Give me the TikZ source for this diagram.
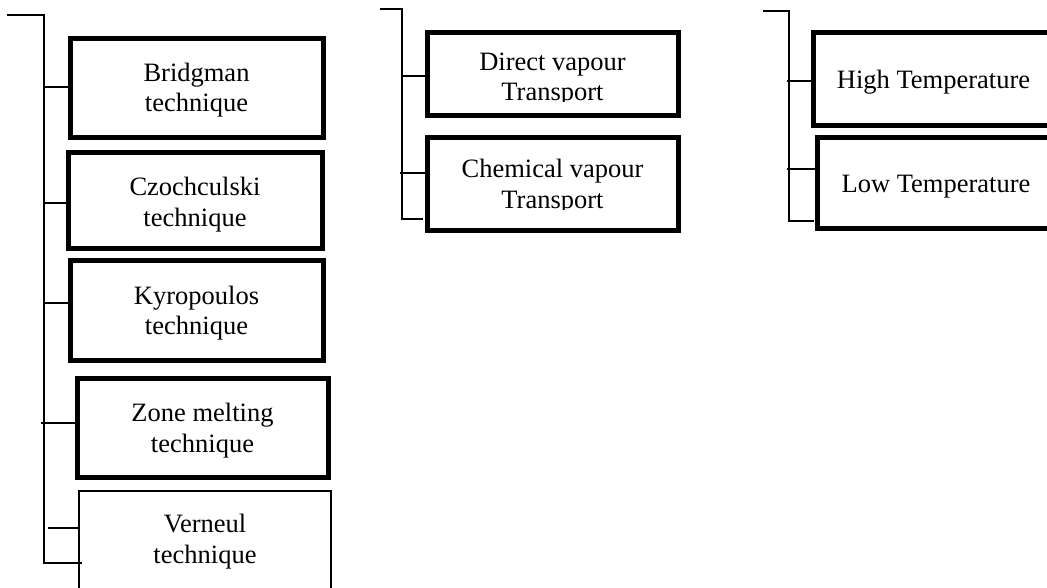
\documentclass[tikz,border=0pt]{standalone}
\usepackage{fontspec}
\setmainfont{Liberation Serif}
\begin{document}
\begin{tikzpicture}[x=1pt,y=-1pt,
  boxthick/.style={draw,line width=5pt,inner sep=0pt},
  boxthin/.style={draw,line width=1.8pt,inner sep=0pt},
  link/.style={line width=2pt},
  lbl/.style={anchor=base,inner sep=0pt,font=\fontsize{26.5}{31}\selectfont}]
\clip (0,0) rectangle (1047,587);
\fill[white] (0,0) rectangle (1047,587);

% box helper: corners given as (x1,y1) and (x2,y2)
\def\mkbox#1#2#3#4#5#6{%
  \node[#6,minimum width={#4-#2},minimum height={#5-#3}] (#1) at ({(#2+#4)/2},{(#3+#5)/2}) {};}

% ---------- left group: melt growth techniques ----------
\mkbox{bridg}{70}{38}{323}{137}{boxthick}
\mkbox{czoch}{68}{152}{322}{248}{boxthick}
\mkbox{kyro}{70}{260}{323}{360}{boxthick}
\mkbox{zone}{77}{378}{328}{477}{boxthick}
\mkbox{vern}{79}{491}{331}{600}{boxthin}

\node[lbl] (tb1) at (196.5,81.7) {Bridgman};
\node[lbl] (tb2) at (196.5,111.7) {technique};
\node[lbl] (tc1) at (195,195) {Czochculski};
\node[lbl] (tc2) at (195,226) {technique};
\node[lbl] (tk1) at (196.5,304) {Kyropoulos};
\node[lbl] (tk2) at (196.5,334) {technique};
\node[lbl] (tz1) at (202.5,421) {Zone melting};
\node[lbl] (tz2) at (202.5,452) {technique};
\node[lbl] (tv1) at (205,532) {Verneul};
\node[lbl] (tv2) at (205,563) {technique};

\coordinate (ltop) at (7,15);
\coordinate (lcor) at (44,15);
\coordinate (lbot) at (44,563);
\coordinate (lend) at (82,563);
\draw[link] (ltop) -- (lcor) -- (lbot) -- (lend);
\draw[link] (43,87) -- (bridg.west |- 0,87);
\draw[link] (43,203) -- (czoch.west |- 0,203);
\draw[link] (43,303) -- (kyro.west |- 0,303);
\draw[link] (41,423) -- (zone.west |- 0,423);
\draw[link] (48,528) -- (vern.west |- 0,528);

% ---------- middle group: vapour growth ----------
\mkbox{dvt}{427}{32}{678}{115}{boxthick}
\mkbox{cvt}{427}{137}{678}{230}{boxthick}

\node[lbl] (td1) at (552.5,70) {Direct vapour};
\begin{scope}
  \clip (430,78) rectangle (676,101);
  \node[lbl] (td2) at (552.5,100) {Transport};
\end{scope}
\node[lbl] (tch1) at (552.5,177) {Chemical vapour};
\begin{scope}
  \clip (430,185) rectangle (676,209.5);
  \node[lbl] (tch2) at (552.5,208) {Transport};
\end{scope}

\coordinate (mtop) at (380,9);
\coordinate (mcor) at (402,9);
\coordinate (mbot) at (402,219);
\coordinate (mend) at (423,219);
\draw[link] (mtop) -- (mcor) -- (mbot) -- (mend);
\draw[link] (403,76) -- (dvt.west |- 0,76);
\draw[link] (400,173) -- (cvt.west |- 0,173);

% ---------- right group: solution growth ----------
\mkbox{hight}{813}{32}{1056}{125}{boxthick}
\mkbox{lowt}{817}{137}{1056}{228}{boxthick}

\node[lbl] (th) at (933.5,88) {High Temperature};
\node[lbl] (tl) at (936,192) {Low Temperature};

\coordinate (rtop) at (763,11);
\coordinate (rcor) at (789,11);
\coordinate (rbot) at (789,221);
\coordinate (rend) at (814,221);
\draw[link] (rtop) -- (rcor) -- (rbot) -- (rend);
\draw[link] (787,81) -- (hight.west |- 0,81);
\draw[link] (787,169) -- (lowt.west |- 0,169);
\end{tikzpicture}
\end{document}
